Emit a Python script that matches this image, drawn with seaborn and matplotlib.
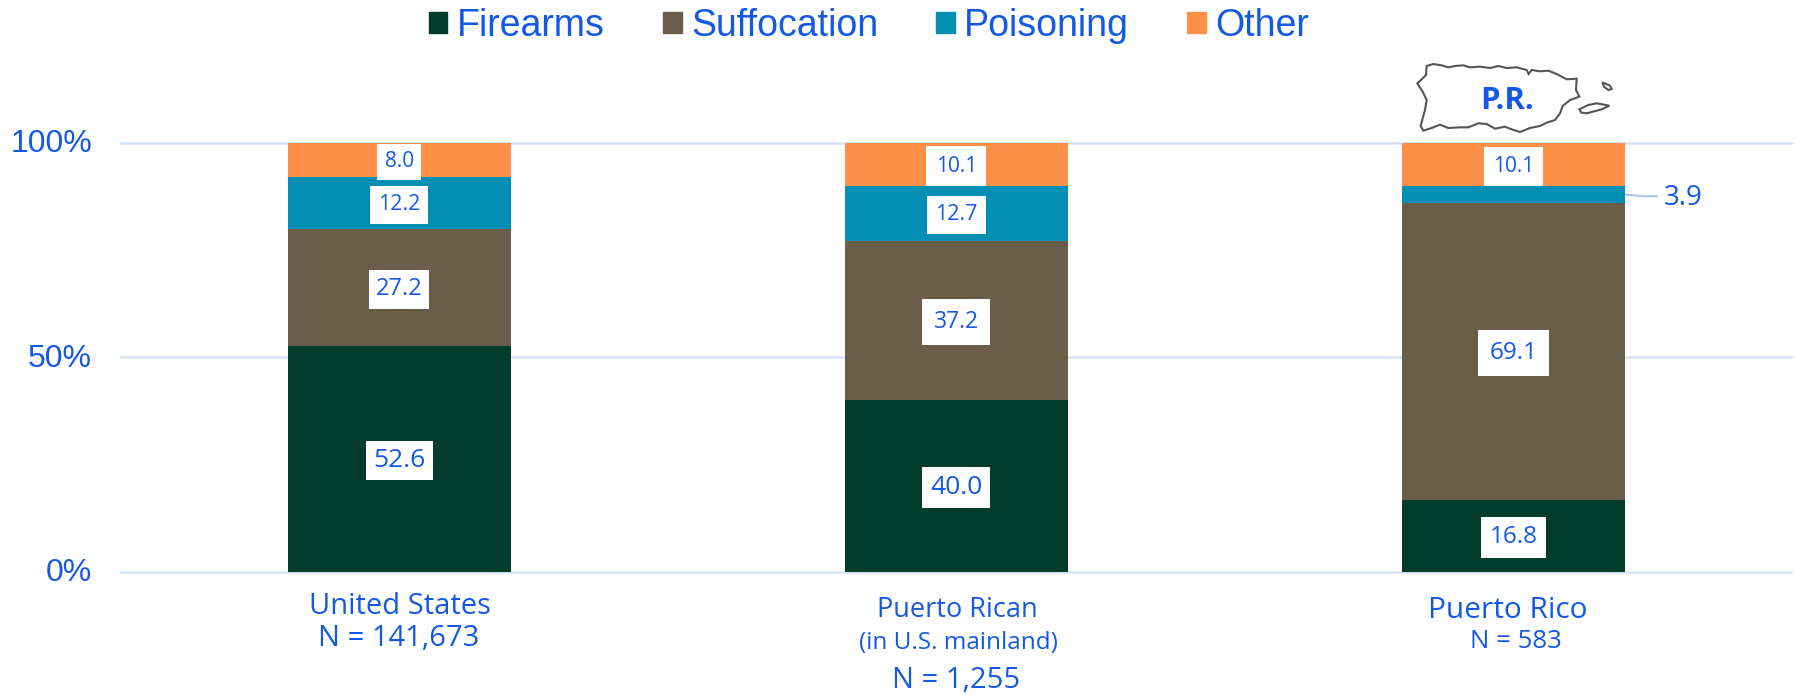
import numpy as np
import pandas as pd
import matplotlib
matplotlib.use("Agg")
import matplotlib.pyplot as plt
from matplotlib.patches import Patch, Polygon
from matplotlib.transforms import ScaledTranslation
import seaborn as sns

W, H = 1799, 694

groups = ["United States", "Puerto Rican", "Puerto Rico"]
causes = ["Firearms", "Suffocation", "Poisoning", "Other"]
firearms = [52.6, 40.0, 16.8]
suffocation = [27.2, 37.2, 69.1]
poisoning = [12.2, 12.7, 3.9]
other = [8.0, 10.1, 10.1]
colors = ["#023D2B", "#6A5D4A", "#028FB3", "#FF9047"]
yticks = [0, 50, 100]

# font size and box padding for each value label, same shape as the stack
label_fs = [[19, 19, 17.5], [17, 16.5, 17.5], [15.5, 15.5, 0], [15, 15, 15]]
label_pad = [[0.28, 0.3, 0.36], [0.3, 0.5, 0.46], [0.38, 0.38, 0], [0.36, 0.44, 0.44]]

blue = "#1459E6"

# in zoomed crop coords
pr_main = [(140, 78), (160, 72), (185, 76), (205, 82), (225, 78), (250, 76), (270, 82), (300, 80), (330, 84),
           (355, 78), (380, 84), (410, 82), (440, 90), (446, 102), (455, 90), (480, 94), (505, 92), (530, 102),
           (560, 118), (590, 116), (588, 150), (598, 170), (570, 180), (548, 198), (540, 220), (525, 240),
           (500, 248), (480, 258), (450, 264), (420, 276), (395, 268), (375, 260), (345, 266), (320, 252),
           (295, 250), (265, 262), (240, 262), (205, 264), (180, 254), (155, 264), (130, 272), (122, 258),
           (128, 235), (135, 210), (140, 180), (128, 155), (112, 130), (125, 118), (138, 105)]
pr_vieques = [(598, 208), (625, 195), (650, 190), (688, 197), (665, 208), (620, 220), (604, 218)]
pr_culebra = [(667, 127), (690, 137), (695, 147), (685, 150), (672, 140)]

sns.set_theme(style="white")
plt.rcParams["font.family"] = ["Open Sans", "DejaVu Sans"]
plt.rcParams["ytick.alignment"] = "center"

fig = plt.figure(figsize=(W / 100, H / 100), dpi=100)
ax = fig.add_axes([120.5 / W, 1 - 571.7 / H, (1792 - 120.5) / W, (571.7 - 142.7) / H])

bottom = np.zeros(3)
stack = [firearms, suffocation, poisoning, other]
for i, vals in enumerate(stack):
    df = pd.DataFrame({"group": groups, "value": vals})
    sns.barplot(data=df, x="group", y="value", color=colors[i], saturation=1, width=0.4,
                bottom=bottom, ax=ax, zorder=3, linewidth=0)
    for j, v in enumerate(vals):
        if v < 5:
            continue
        ax.text(j, bottom[j] + v / 2 - 0.4, f"{v:.1f}", ha="center", va="center", color=blue, fontsize=label_fs[i][j],
                zorder=5, bbox=dict(boxstyle=f"square,pad={label_pad[i][j]}", fc="white", ec="none"))
    bottom += np.array(vals)

ax.set_xlim(-0.5, 2.5)
ax.set_ylim(0, 100)
ax.set_xlabel("")
ax.set_ylabel("")
ax.set_yticks(yticks)
ax.set_yticklabels([f"{t}%" for t in yticks], color=blue, fontsize=23, family="Liberation Sans")
ax.tick_params(axis="y", length=0, pad=20.5)
ax.set_xticks([])
sns.despine(ax=ax, left=True, bottom=True, right=True, top=True)
for t in yticks:
    ax.axhline(t, color="#D6E4FB", lw=1.8, zorder=1, clip_on=False)
# nudge the percent labels down a touch
for lab in ax.get_yticklabels():
    lab.set_transform(lab.get_transform() + ScaledTranslation(0, -1.2 / 72, fig.dpi_scale_trans))

# group labels, in figure pixels
over = fig.add_axes([0, 0, 1, 1], facecolor="none")
over.set_xlim(0, W)
over.set_ylim(H, 0)
over.axis("off")
over.text(399.5, 607, "United States", ha="center", va="center", color=blue, fontsize=21)
over.text(399, 638, "N = 141,673", ha="center", va="center", color=blue, fontsize=21)
over.text(957.5, 610, "Puerto Rican", ha="center", va="center", color=blue, fontsize=19.5)
over.text(958, 643, "(in U.S. mainland)", ha="center", va="center", color=blue, fontsize=17.5)
over.text(956.5, 680, "N = 1,255", ha="center", va="center", color=blue, fontsize=21)
over.text(1507.5, 610, "Puerto Rico", ha="center", va="center", color=blue, fontsize=21.5)
over.text(1515.5, 642, "N = 583", ha="center", va="center", color=blue, fontsize=18.5)

# callout for the thin poisoning segment
over.plot([1626, 1645, 1657], [194.7, 196.3, 196.3], color="#A9C4F2", lw=1.5)
over.text(1664, 197.5, "3.9", ha="left", va="center", color=blue, fontsize=20)

# island outline above the third bar
for shape in [pr_main, pr_vieques, pr_culebra]:
    pts = [(1380 + x / 3, 40 + y / 3) for x, y in shape]
    over.add_patch(Polygon(pts, closed=True, fc="white", ec="#555555", lw=1.5))
over.text(1507, 101, "P.R.", ha="center", va="center", color=blue, fontsize=22.5, fontweight="bold")

handles = [Patch(color=c, label=n) for c, n in zip(colors, causes)]
leg = over.legend(handles=handles, ncol=4, loc="center", bbox_to_anchor=(869 / W, 1 - 26 / H), frameon=False,
                  handlelength=0.5, handleheight=0.5, handletextpad=0.25, columnspacing=1.55,
                  prop={"family": "Liberation Sans", "size": 27})
for t in leg.get_texts():
    t.set_color(blue)

fig.savefig("out.png", dpi=100)
